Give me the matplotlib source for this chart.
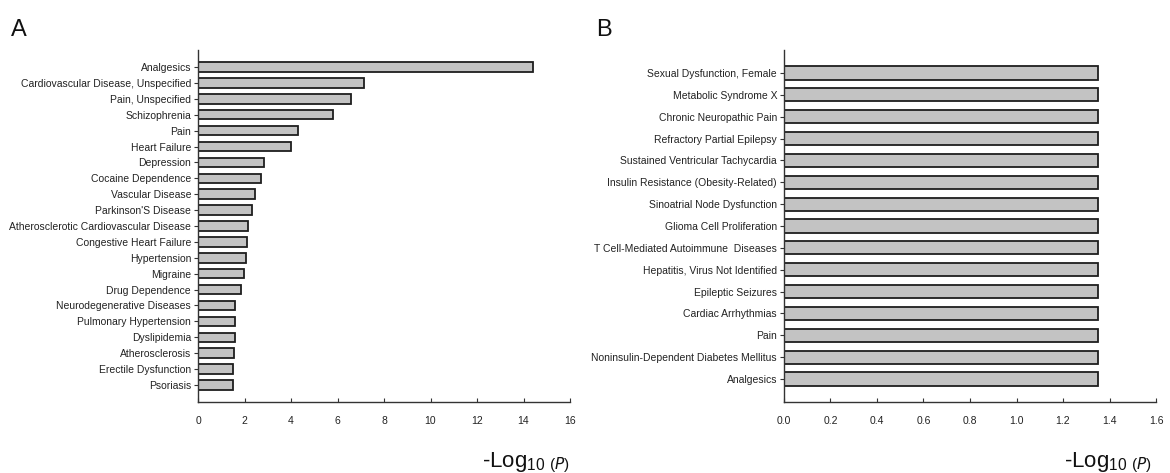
import matplotlib.pyplot as plt

plt.rcParams["font.family"] = ["Liberation Sans", "DejaVu Sans"]

# Panel A: enrichment, -log10(P)
labels_a = [
    "Analgesics", "Cardiovascular Disease, Unspecified", "Pain, Unspecified",
    "Schizophrenia", "Pain", "Heart Failure", "Depression", "Cocaine Dependence",
    "Vascular Disease", "Parkinson'S Disease", "Atherosclerotic Cardiovascular Disease",
    "Congestive Heart Failure", "Hypertension", "Migraine", "Drug Dependence",
    "Neurodegenerative Diseases", "Pulmonary Hypertension", "Dyslipidemia",
    "Atherosclerosis", "Erectile Dysfunction", "Psoriasis",
]
values_a = [14.4, 7.14, 6.6, 5.82, 4.31, 3.99, 2.84, 2.71, 2.45, 2.34, 2.17,
            2.12, 2.05, 1.99, 1.83, 1.59, 1.59, 1.59, 1.56, 1.52, 1.52]
ticks_a = [0, 2, 4, 6, 8, 10, 12, 14, 16]

# Panel B
labels_b = [
    "Sexual Dysfunction, Female", "Metabolic Syndrome X", "Chronic Neuropathic Pain",
    "Refractory Partial Epilepsy", "Sustained Ventricular Tachycardia",
    "Insulin Resistance (Obesity-Related)", "Sinoatrial Node Dysfunction",
    "Glioma Cell Proliferation", "T Cell-Mediated Autoimmune  Diseases",
    "Hepatitis, Virus Not Identified", "Epileptic Seizures", "Cardiac Arrhythmias",
    "Pain", "Noninsulin-Dependent Diabetes Mellitus", "Analgesics",
]
values_b = [1.35] * 15
ticks_b = [0.0, 0.2, 0.4, 0.6, 0.8, 1.0, 1.2, 1.4, 1.6]

W, H = 1170, 473
fig = plt.figure(figsize=(W / 100, H / 100), dpi=100)


def draw_panel(rect, labels, values, ticks, pad, tick_fmt):
    ax = fig.add_axes(rect)
    n = len(labels)
    ypos = list(range(n))
    ax.barh(ypos, values, height=0.6, color="#c3c3c3", edgecolor="#1e1e1e",
            linewidth=1.3)
    ax.set_yticks(ypos)
    ax.set_yticklabels(labels, fontsize=7.5, color="#222222")
    ax.set_ylim(n - 1 + pad, -pad)
    ax.set_xlim(ticks[0], ticks[-1])
    ax.set_xticks(ticks)
    ax.set_xticklabels([tick_fmt.format(t) for t in ticks], fontsize=7.5,
                       color="#222222")
    for side in ("top", "right"):
        ax.spines[side].set_visible(False)
    for side in ("left", "bottom"):
        ax.spines[side].set_color("#333333")
        ax.spines[side].set_linewidth(1.0)
    ax.tick_params(axis="y", direction="out", length=3, width=0.8,
                   color="#333333", pad=2)
    ax.tick_params(axis="x", direction="in", length=3, width=0.8,
                   color="#333333", pad=10)
    return ax


ax_a = draw_panel([198 / W, 1 - 402 / H, 372 / W, 352 / H],
                  labels_a, values_a, ticks_a, 1.07, "{:g}")
ax_b = draw_panel([784 / W, 1 - 402 / H, 372 / W, 352 / H],
                  labels_b, values_b, ticks_b, 1.05, "{:.1f}")

# panel letters
fig.text(11 / W, 1 - 36 / H, "A", fontsize=17, color="#111111")
fig.text(596 / W, 1 - 36 / H, "B", fontsize=17, color="#111111")


def axis_title(x_px):
    t1 = fig.text(x_px / W, 1 - 467 / H, r"-Log$_{\mathregular{10}}$",
                  fontsize=16, color="#111111")
    fig.add_artist(plt.Annotation(
        r" ($\it{P}$)", xy=(1, 0), xycoords=t1, xytext=(0, 0),
        textcoords="offset points", fontsize=11, color="#111111",
        va="bottom", ha="left", annotation_clip=False))


axis_title(482)
axis_title(1064)

fig.savefig("out.png", dpi=100)
